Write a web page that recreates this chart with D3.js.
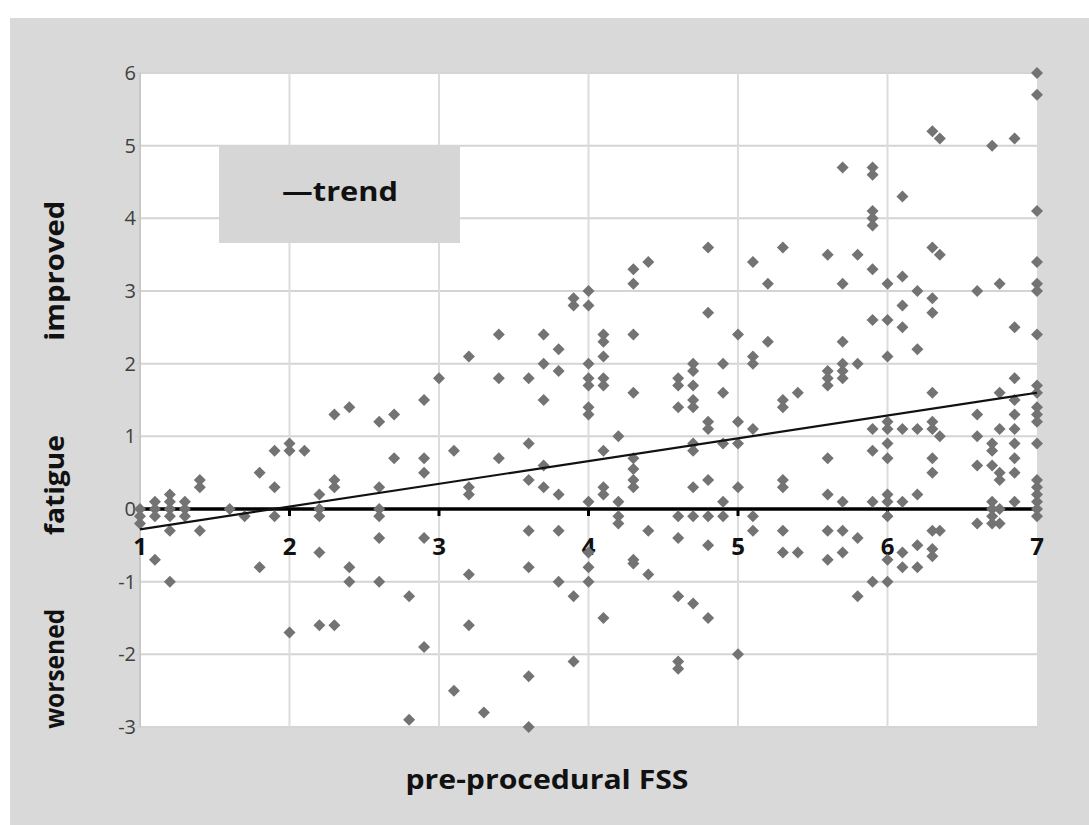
<!DOCTYPE html>
<html lang="en">
<head>
<meta charset="UTF-8">
<title>Fatigue change vs pre-procedural FSS</title>
<script src="https://d3js.org/d3.v7.min.js"></script>
<style>
    body { margin: 0; background: #fff; }
    svg { display: block; }
    .tick-y { font-family: "Open Sans", Lato, sans-serif; font-size: 20px; fill: #404040; }
    .tick-x { font-family: "Open Sans", Lato, sans-serif; font-size: 24px; font-weight: bold; fill: #111; }
    .title { font-family: "Open Sans", Lato, sans-serif; font-size: 27px; font-weight: bold; fill: #111; }
</style>
</head>
<body>
<svg id="chart" width="1089" height="825"></svg>
<script>
    // x positions (pre-procedural FSS) and the fatigue changes found at each one
    const fssColumns = [1.0, 1.1, 1.2, 1.3, 1.4, 1.6, 1.7, 1.8, 1.9, 2.0, 2.1, 2.2, 2.3, 2.4, 2.6, 2.7, 2.8, 2.9,
        3.0, 3.1, 3.2, 3.3, 3.4, 3.6, 3.7, 3.8, 3.9, 4.0, 4.1, 4.2, 4.3, 4.4, 4.6, 4.7, 4.8, 4.9,
        5.0, 5.1, 5.2, 5.3, 5.4, 5.6, 5.7, 5.8, 5.9, 6.0, 6.1, 6.2, 6.3, 6.35, 6.6, 6.7, 6.75, 6.85, 7.0];
    const fatigueChange = [
        [0.0, -0.1, -0.2],
        [0.1, 0.0, -0.1, -0.7],
        [0.2, 0.1, 0.0, -0.1, -0.3, -1.0],
        [0.1, 0.0, -0.1],
        [0.4, 0.3, -0.3],
        [0.0],
        [-0.1],
        [0.5, -0.8],
        [0.8, 0.3, -0.1],
        [0.9, 0.8, -1.7],
        [0.8],
        [0.2, 0.0, -0.1, -0.6, -1.6],
        [1.3, 0.4, 0.3, -1.6],
        [1.4, -0.8, -1.0],
        [1.2, 0.3, 0.0, -0.1, -0.4, -1.0],
        [1.3, 0.7],
        [-1.2, -2.9],
        [1.5, 0.7, 0.5, -0.4, -1.9],
        [1.8],
        [0.8, -2.5],
        [2.1, 0.3, 0.2, -0.9, -1.6],
        [-2.8],
        [2.4, 1.8, 0.7],
        [1.8, 0.9, 0.4, -0.3, -0.8, -2.3, -3.0],
        [2.4, 2.0, 1.5, 0.6, 0.3],
        [2.2, 1.9, 0.2, -0.3, -1.0],
        [2.9, 2.8, -1.2, -2.1],
        [3.0, 2.8, 2.0, 1.8, 1.7, 1.4, 1.3, 0.1, -0.6, -0.8, -1.0],
        [2.4, 2.3, 2.1, 1.8, 1.7, 0.8, 0.3, 0.2, -1.5],
        [1.0, 0.1, -0.1, -0.2],
        [3.3, 3.1, 2.4, 1.6, 0.7, 0.55, 0.4, 0.3, -0.7, -0.75],
        [3.4, -0.3, -0.9],
        [1.8, 1.7, 1.4, -0.1, -0.4, -1.2, -2.1, -2.2],
        [2.0, 1.9, 1.7, 1.5, 1.4, 0.9, 0.8, 0.3, -0.1, -1.3],
        [3.6, 2.7, 1.2, 1.1, 0.4, -0.1, -0.5, -1.5],
        [2.0, 1.6, 0.9, 0.1, -0.1],
        [2.4, 1.2, 0.9, 0.3, -2.0],
        [3.4, 2.1, 2.0, 1.1, -0.1, -0.3],
        [3.1, 2.3],
        [3.6, 1.5, 1.4, 0.4, 0.3, -0.3, -0.6],
        [1.6, -0.6],
        [3.5, 1.9, 1.8, 1.7, 0.7, 0.2, -0.3, -0.7],
        [4.7, 3.1, 2.3, 2.0, 1.9, 1.8, 0.1, -0.3, -0.6],
        [3.5, 2.0, -0.4, -1.2],
        [4.7, 4.6, 4.1, 4.0, 3.9, 3.3, 2.6, 1.1, 0.8, 0.1, -1.0],
        [3.1, 2.6, 2.1, 1.2, 1.1, 0.9, 0.7, 0.2, 0.1, -0.1, -0.7, -1.0],
        [4.3, 3.2, 2.8, 2.5, 1.1, 0.1, -0.6, -0.8],
        [3.0, 2.2, 1.1, 0.2, -0.5, -0.8],
        [5.2, 3.6, 2.9, 2.7, 1.6, 1.2, 1.1, 0.7, 0.5, -0.3, -0.55, -0.65],
        [5.1, 3.5, 1.0, -0.3],
        [3.0, 1.3, 1.0, 0.6, -0.2],
        [5.0, 0.9, 0.8, 0.6, 0.1, 0.0, -0.1, -0.2],
        [3.1, 1.6, 1.1, 0.5, 0.4, 0.0, -0.2],
        [5.1, 2.5, 1.8, 1.5, 1.3, 1.1, 0.9, 0.7, 0.5, 0.1],
        [6.0, 5.7, 4.1, 3.4, 3.1, 3.0, 2.4, 1.7, 1.6, 1.4, 1.3, 1.2, 0.9, 0.4, 0.3, 0.2, 0.1, 0.0, -0.1]
    ];
    const xTicks = [1, 2, 3, 4, 5, 6, 7];
    const yTicks = [-3, -2, -1, 0, 1, 2, 3, 4, 5, 6];
    const trendX = [1, 7];
    const trendY = [-0.28, 1.6];
    const yTitleWords = ["improved", "fatigue", "worsened"];
    const yTitleCentres = [3.28, 0.33, -2.2];
    const yTitleLengths = [140, 100, 120];

    const points = [];
    fssColumns.forEach((fx, i) => fatigueChange[i].forEach(v => points.push({ x: fx, y: v })));

    const svg = d3.select("#chart");
    const plotLeft = 140, plotRight = 1037, plotTop = 73, plotBottom = 727;

    const x = d3.scaleLinear().domain([1, 7]).range([plotLeft, plotRight]);
    const y = d3.scaleLinear().domain([-3, 6]).range([plotBottom, plotTop]);

    // grey frame and white plot area
    svg.append("rect").attr("x", 10).attr("y", 18).attr("width", 1079).attr("height", 807).attr("fill", "#d9d9d9");
    svg.append("rect").attr("x", plotLeft).attr("y", plotTop)
        .attr("width", plotRight - plotLeft).attr("height", plotBottom - plotTop).attr("fill", "#fff");

    // grid
    svg.append("g").selectAll("line").data(yTicks).join("line")
        .attr("x1", plotLeft - 5).attr("x2", plotRight)
        .attr("y1", d => y(d)).attr("y2", d => y(d))
        .attr("stroke", "#d4d4d4").attr("stroke-width", 2);
    svg.append("g").selectAll("line").data(xTicks.slice(1, -1)).join("line")
        .attr("x1", d => x(d)).attr("x2", d => x(d))
        .attr("y1", plotTop).attr("y2", plotBottom)
        .attr("stroke", "#dcdcdc").attr("stroke-width", 2);
    svg.append("line").attr("x1", plotLeft).attr("x2", plotLeft).attr("y1", plotTop).attr("y2", plotBottom)
        .attr("stroke", "#c8c8c8").attr("stroke-width", 2);

    // y tick labels
    svg.append("g").selectAll("text").data(yTicks).join("text")
        .attr("class", "tick-y")
        .attr("x", plotLeft - 4).attr("y", d => y(d) + 7)
        .attr("text-anchor", "end")
        .text(d => d);

    // zero axis with ticks
    svg.append("line").attr("x1", plotLeft).attr("x2", plotRight).attr("y1", y(0)).attr("y2", y(0))
        .attr("stroke", "#000").attr("stroke-width", 3.5);
    svg.append("g").selectAll("line").data(xTicks).join("line")
        .attr("x1", d => x(d)).attr("x2", d => x(d))
        .attr("y1", y(0)).attr("y2", y(0) + 7)
        .attr("stroke", "#000").attr("stroke-width", 3);
    svg.append("g").selectAll("text").data(xTicks).join("text")
        .attr("class", "tick-x")
        .attr("x", d => x(d)).attr("y", y(0) + 46)
        .attr("text-anchor", "middle")
        .text(d => d);

    // points
    const diamond = d3.symbol().type(d3.symbolSquare).size(72);
    svg.append("g").selectAll("path").data(points).join("path")
        .attr("d", diamond)
        .attr("transform", d => `translate(${x(d.x)},${y(d.y)}) rotate(45)`)
        .attr("fill", "#737373");

    // trend line
    const trend = trendX.map((v, i) => [x(v), y(trendY[i])]);
    svg.append("path").attr("d", d3.line()(trend))
        .attr("stroke", "#111").attr("stroke-width", 2.2).attr("fill", "none");

    // legend
    svg.append("rect").attr("x", 219).attr("y", 145).attr("width", 241).attr("height", 98).attr("fill", "#d6d6d6");
    svg.append("text").attr("class", "title").attr("x", 282).attr("y", 201)
        .attr("textLength", 116).attr("lengthAdjust", "spacingAndGlyphs")
        .text("\u2014trend");

    // axis titles
    svg.append("text").attr("class", "title")
        .attr("x", 547).attr("y", 789)
        .attr("text-anchor", "middle")
        .attr("textLength", 283).attr("lengthAdjust", "spacingAndGlyphs")
        .text("pre-procedural FSS");
    svg.append("g").selectAll("text").data(yTitleWords).join("text")
        .attr("class", "title")
        .attr("text-anchor", "middle")
        .attr("textLength", (d, i) => yTitleLengths[i]).attr("lengthAdjust", "spacingAndGlyphs")
        .attr("transform", (d, i) => `translate(64,${y(yTitleCentres[i])}) rotate(-90)`)
        .text(d => d);
</script>
</body>
</html>
